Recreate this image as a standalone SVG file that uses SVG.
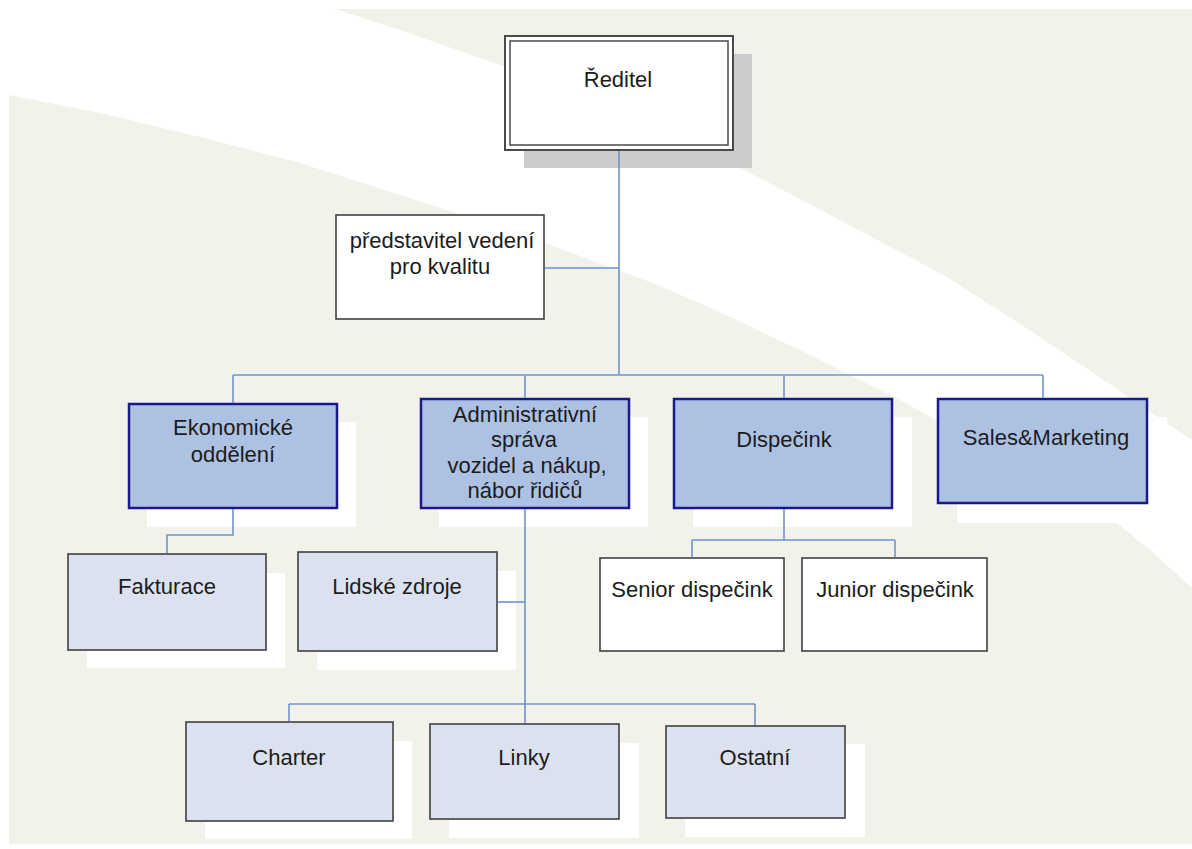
<svg xmlns="http://www.w3.org/2000/svg" width="1192" height="849" viewBox="0 0 1192 849">
<style>
text{font-family:"Liberation Sans",Arial,sans-serif;font-size:22px;fill:#1c1c1c;text-anchor:middle}
.sh{fill:#ffffff}
.dept{fill:#adc2e3;stroke:#1a1a8a;stroke-width:2.5}
.sub{fill:#dbe1ef;stroke:#404040;stroke-width:1.6}
.wht{fill:#ffffff;stroke:#404040;stroke-width:1.6}
.con{fill:none;stroke:#6f93cc;stroke-width:1.6}
</style>
<rect x="0" y="0" width="1192" height="849" fill="#ffffff"/>
<rect x="9" y="9" width="1183" height="835" fill="#f2f2eb"/>
<path d="M9,9 L335,9 L400,30 L500,65 L600,106 L700,150 L740,168 L800,199 L870,236 L947,277 L1040,337 L1133,400 L1192,440 L1192,588 L1150,550 L1117,523 L1000,455 L900,400 L800,350 L700,303 L650,282 L550,245 L450,211 L400,195 L300,163 L200,137 L100,113 L9,95 Z" fill="#ffffff"/>

<g id="reditel">
<rect x="524" y="54" width="228" height="114" fill="#cccccc"/>
<rect x="505" y="36" width="228" height="114" fill="#ffffff" stroke="#4a4a4a" stroke-width="2"/>
<rect x="510" y="41" width="218" height="104" fill="none" stroke="#4a4a4a" stroke-width="1.5"/>
<text x="618" y="87">Ředitel</text>
</g>

<g id="predstavitel">
<rect x="336" y="215" width="208" height="104" class="wht"/>
<text x="442" y="248">představitel vedení</text>
<text x="440" y="274">pro kvalitu</text>
</g>

<g id="ekonomicke">
<rect x="147" y="422" width="209" height="105" class="sh"/>
<rect x="129" y="404" width="208" height="104" class="dept"/>
<text x="233" y="435">Ekonomické</text>
<text x="233" y="462">oddělení</text>
</g>

<g id="administrativni">
<rect x="439" y="417" width="209" height="110" class="sh"/>
<rect x="421" y="399" width="208" height="109" class="dept"/>
<text x="525" y="422">Administrativní</text>
<text x="524" y="447">správa</text>
<text x="527" y="473">vozidel a nákup,</text>
<text x="525" y="498">nábor řidičů</text>
</g>

<g id="dispecink">
<rect x="693" y="417" width="219" height="110" class="sh"/>
<rect x="674" y="399" width="218" height="109" class="dept"/>
<text x="784" y="447">Dispečink</text>
</g>

<g id="sales">
<rect x="957" y="417" width="210" height="106" class="sh"/>
<rect x="938" y="399" width="209" height="104" class="dept"/>
<text x="1046" y="445">Sales&amp;Marketing</text>
</g>

<g id="fakturace">
<rect x="87" y="573" width="198" height="95" class="sh"/>
<rect x="68" y="554" width="198" height="96" class="sub"/>
<text x="167" y="594">Fakturace</text>
</g>

<g id="lidske-zdroje">
<rect x="317" y="571" width="199" height="99" class="sh"/>
<rect x="298" y="552" width="199" height="99" class="sub"/>
<text x="397" y="594">Lidské zdroje</text>
</g>

<g id="senior">
<rect x="600" y="558" width="184" height="93" class="wht"/>
<text x="692" y="597">Senior dispečink</text>
</g>

<g id="junior">
<rect x="802" y="558" width="185" height="93" class="wht"/>
<text x="895" y="597">Junior dispečink</text>
</g>

<g id="charter">
<rect x="205" y="741" width="207" height="98" class="sh"/>
<rect x="186" y="722" width="207" height="99" class="sub"/>
<text x="289" y="765">Charter</text>
</g>

<g id="linky">
<rect x="449" y="743" width="190" height="95" class="sh"/>
<rect x="430" y="724" width="189" height="95" class="sub"/>
<text x="524" y="765">Linky</text>
</g>

<g id="ostatni">
<rect x="685" y="744" width="180" height="93" class="sh"/>
<rect x="666" y="726" width="179" height="92" class="sub"/>
<text x="755" y="765">Ostatní</text>
</g>

<g id="connectors" class="con">
<path d="M619,151 V375"/>
<path d="M545,268 H619"/>
<path d="M233,375 H1043"/>
<path d="M233,375 V403"/>
<path d="M525,375 V398"/>
<path d="M784,375 V398"/>
<path d="M1043,375 V398"/>
<path d="M233,509 V535 H167 V553"/>
<path d="M525,509 V704"/>
<path d="M498,602 H525"/>
<path d="M289,704 H755"/>
<path d="M289,704 V721"/>
<path d="M525,704 V723"/>
<path d="M755,704 V725"/>
<path d="M784,509 V540"/>
<path d="M692,540 H895"/>
<path d="M692,540 V557"/>
<path d="M895,540 V557"/>
</g>
</svg>
